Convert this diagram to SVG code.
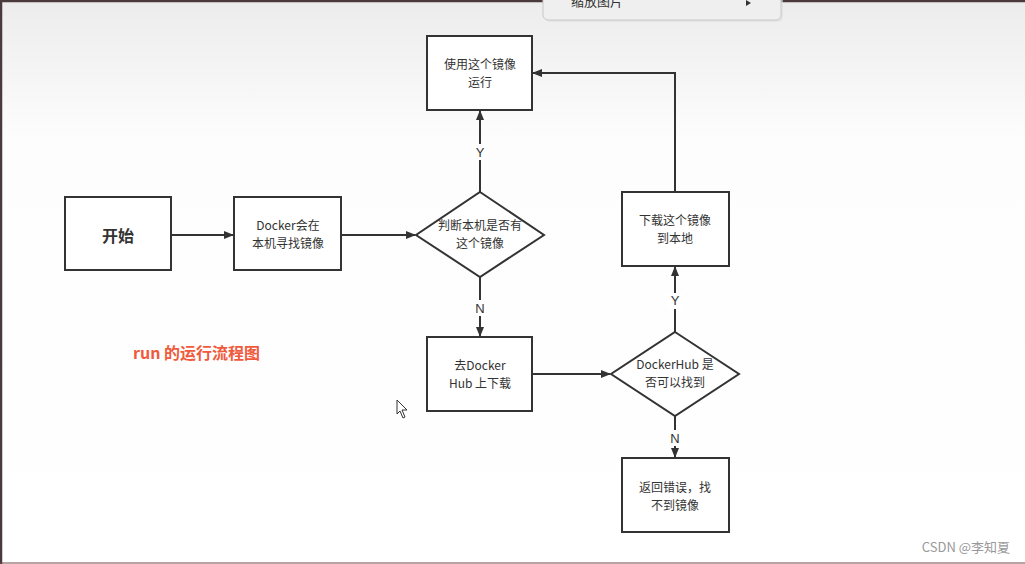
<svg xmlns="http://www.w3.org/2000/svg" width="1025" height="564" viewBox="0 0 1025 564">
<style>
.n{fill:#fff;stroke:#333;stroke-width:2}
.t{font-family:"Noto Sans CJK SC","Noto Sans",sans-serif;font-size:12px;fill:#333;text-anchor:middle}
.c{stroke:#333;stroke-width:2;fill:none;marker-end:url(#a)}
.l{font-family:"Liberation Sans",sans-serif;font-size:13px;fill:#333;text-anchor:middle}
</style>
<defs>
<linearGradient id="bg" x1="0" y1="0" x2="0" y2="1"><stop offset="0" stop-color="#ececec"/><stop offset="0.25" stop-color="#fdfdfd"/><stop offset="1" stop-color="#fff"/></linearGradient>
<marker id="a" markerWidth="10" markerHeight="8" refX="9" refY="4" orient="auto" markerUnits="userSpaceOnUse"><path d="M0,0 L10,4 L0,8 Z" fill="#333"/></marker>
</defs>
<rect width="1025" height="564" fill="url(#bg)"/>
<path d="M1,564 V1 H1025" stroke="#4a3a3c" stroke-width="2.5" fill="none"/>
<line x1="0" y1="563" x2="1025" y2="563" stroke="#6a4a4a" stroke-width="1"/>
<g id="menu">
<rect x="545" y="-8" width="238" height="30" rx="5" fill="#ddd" opacity="0.6"/>
<rect x="543" y="-10" width="238" height="30" rx="5" fill="#efefef" stroke="#c8c8c8"/>
<text x="571" y="6" font-family="Noto Sans CJK SC,sans-serif" font-size="13" fill="#333">缩放图片</text>
<path d="M746,0 L751,3 L746,6 Z" fill="#333"/>
</g>
<g id="connectors">
<line class="c" x1="171" y1="235" x2="233" y2="235"/>
<line class="c" x1="341" y1="235" x2="415" y2="235"/>
<line class="c" x1="480" y1="192" x2="480" y2="111"/>
<line class="c" x1="480" y1="277" x2="480" y2="336"/>
<line class="c" x1="532" y1="374" x2="610" y2="374"/>
<line class="c" x1="675" y1="332" x2="675" y2="267"/>
<line class="c" x1="675" y1="416" x2="675" y2="457"/>
<polyline class="c" points="675,192 675,73 533,73"/>
<rect x="472" y="144" width="16" height="16" fill="#fff"/><text class="l" x="480" y="157">Y</text>
<rect x="472" y="300" width="16" height="16" fill="#fff"/><text class="l" x="480" y="313">N</text>
<rect x="667" y="293" width="16" height="16" fill="#fff"/><text class="l" x="675" y="305">Y</text>
<rect x="667" y="430" width="16" height="16" fill="#fff"/><text class="l" x="675" y="443">N</text>
</g>
<g id="start"><rect class="n" x="65" y="197" width="106" height="73"/><text class="t" x="118" y="242" style="font-size:16px;font-weight:bold">开始</text></g>
<g id="find"><rect class="n" x="234" y="197" width="107" height="73"/><text class="t" x="288" y="230">Docker会在</text><text class="t" x="288" y="248">本机寻找镜像</text></g>
<g id="check"><polygon class="n" points="480,192 544,235 480,277 416,235"/><text class="t" x="480" y="230">判断本机是否有</text><text class="t" x="480" y="248">这个镜像</text></g>
<g id="run"><rect class="n" x="427" y="36" width="105" height="74"/><text class="t" x="480" y="69">使用这个镜像</text><text class="t" x="480" y="87">运行</text></g>
<g id="hub"><rect class="n" x="427" y="337" width="105" height="74"/><text class="t" x="480" y="370">去Docker</text><text class="t" x="480" y="388">Hub 上下载</text></g>
<g id="check2"><polygon class="n" points="675,332 739,374 675,416 611,374"/><text class="t" x="675" y="369">DockerHub 是</text><text class="t" x="675" y="387">否可以找到</text></g>
<g id="download"><rect class="n" x="622" y="192" width="107" height="74"/><text class="t" x="675" y="225">下载这个镜像</text><text class="t" x="675" y="243">到本地</text></g>
<g id="error"><rect class="n" x="622" y="458" width="107" height="74"/><text class="t" x="675" y="492">返回错误，找</text><text class="t" x="675" y="510">不到镜像</text></g>
<text x="133" y="359" font-family="Noto Sans CJK SC,sans-serif" font-size="16" font-weight="bold" fill="#f05a3c">run 的运行流程图</text>
<path d="M397,400 L397,414 L400,411 L403,418 L405,417 L402,410 L407,410 Z" fill="#fff" stroke="#333" stroke-width="1"/>
<text x="1010" y="552" text-anchor="end" font-family="Noto Sans CJK SC,sans-serif" font-size="13" fill="#999">CSDN @李知夏</text>
</svg>
